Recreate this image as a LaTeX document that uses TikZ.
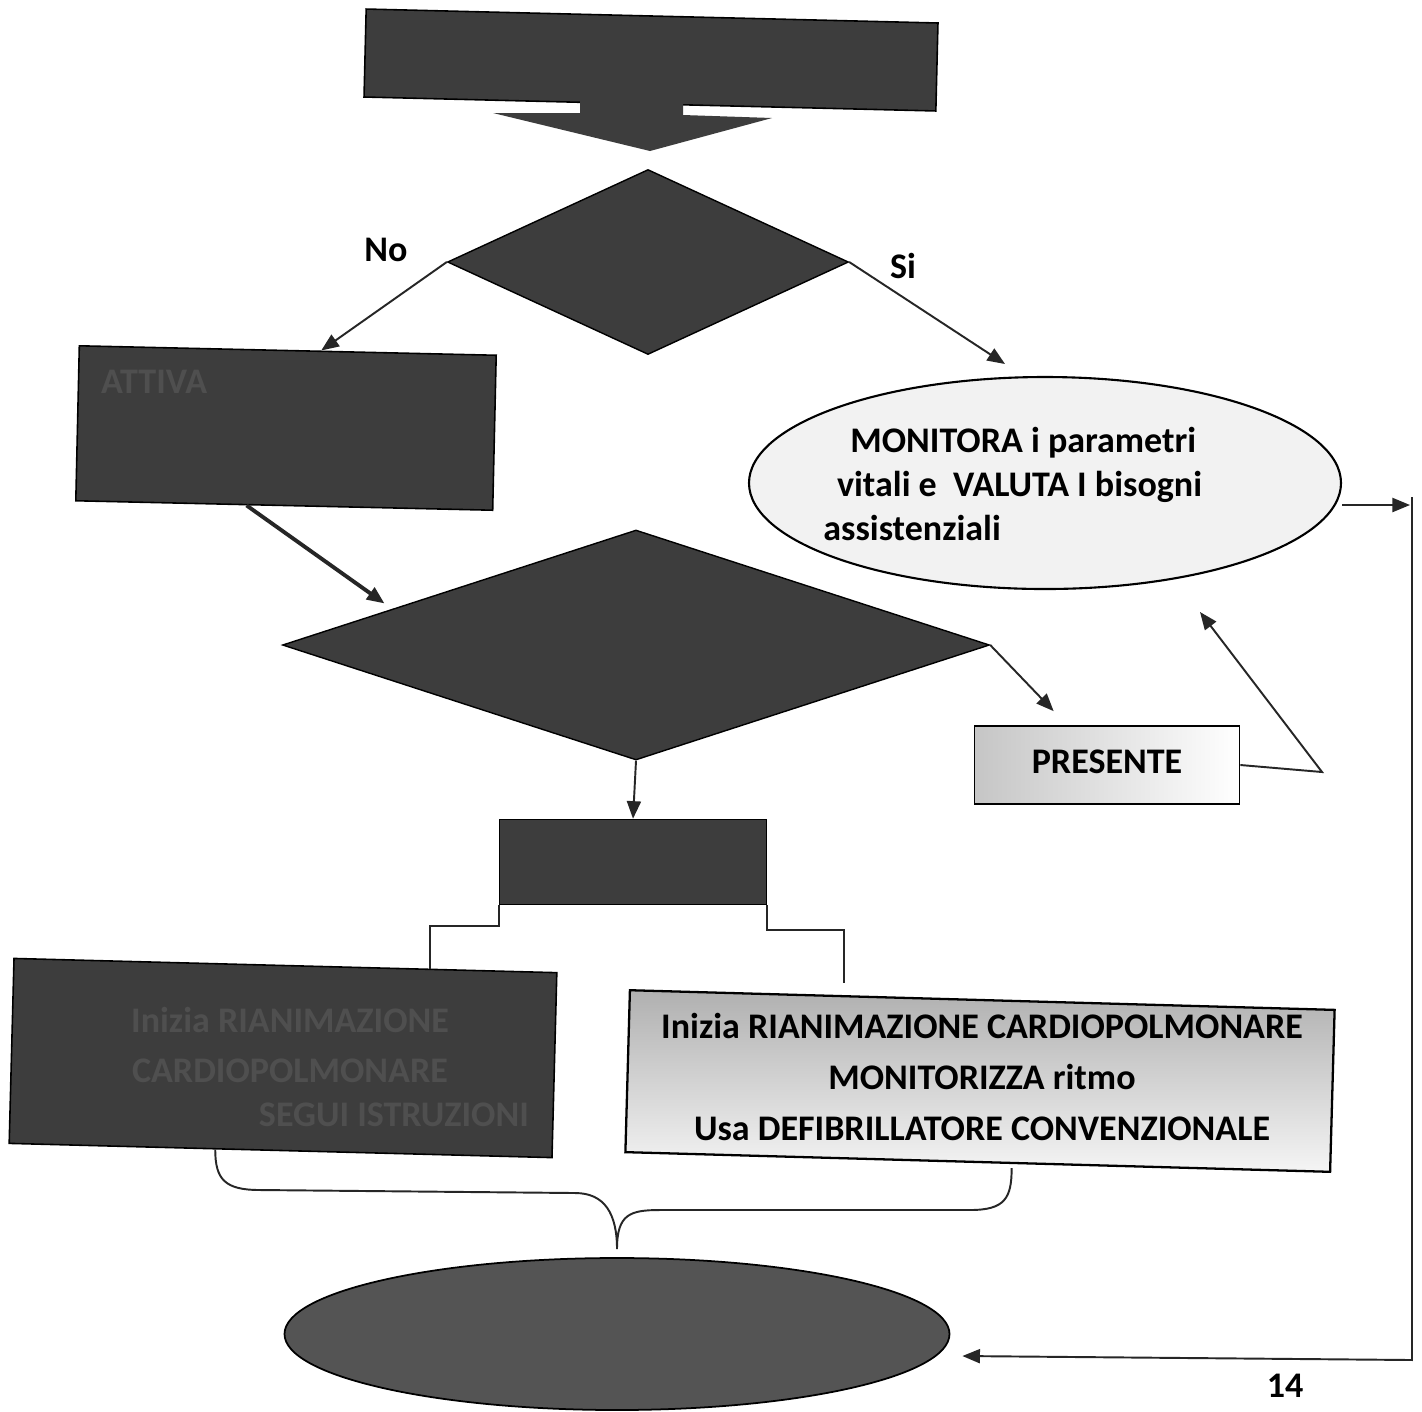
\documentclass[tikz,border=0pt]{standalone}
\usepackage{fontspec}
\setmainfont{Carlito}
\usetikzlibrary{shapes.geometric,arrows.meta,calc}
\definecolor{darkfill}{gray}{0.24}
\definecolor{faintink}{gray}{0.31}
\begin{document}
\begin{tikzpicture}[x=0.02cm,y=-0.02cm,
  lbl/.style={font=\bfseries\fontsize{20.5}{25}\selectfont},
  darkbox/.style={rectangle,draw=black,line width=0.9pt,fill=darkfill,inner sep=0pt},
  darkdiam/.style={diamond,draw=black,line width=0.8pt,fill=darkfill,inner sep=0pt},
  conn/.style={draw=black!85,line width=1.1pt},
  arr/.style={conn,-{Triangle[length=10pt,width=8pt]}},
  faint/.style={text=faintink,font=\bfseries\fontsize{20.5}{28}\selectfont}]
\useasboundingbox (0,0) rectangle (1422,1411);
\fill[white] (0,0) rectangle (1422,1411);

% top banner with block arrow
\node[darkbox,minimum width={572*0.02cm},minimum height={88*0.02cm},rotate=-1.4] (banner) at (651,60) {};
\fill[darkfill] (580,100) -- (580,113) -- (493,113) -- (650,151) -- (772,118) -- (683,115) -- (683,100) -- cycle;

% first decision
\node[darkdiam,minimum width={401*0.02cm},minimum height={185*0.02cm}] (d1) at (648,262) {};
\node[lbl] (no) at (386,250) {No};
\node[lbl] (si) at (903,266) {Si};

% left top box
\node[darkbox,minimum width={417*0.02cm},minimum height={155*0.02cm},rotate=-1.3] (tl) at (286,428) {};
\node[faint,anchor=west] (tltxt) at (95,382) {ATTIVA};

% monitor ellipse
\node[ellipse,draw=black,line width=1.2pt,fill=gray!10,inner sep=0pt,
      minimum width={592*0.02cm},minimum height={212*0.02cm}] (e1) at (1045,483) {};
\node[anchor=west,align=left,inner sep=0pt,font=\bfseries\fontsize{20.5}{25}\selectfont] (e1txt) at (823,484)
  {\hspace*{0.75em}MONITORA i parametri\\\hspace*{0.38em}vitali e \ VALUTA I bisogni\\assistenziali};

% second decision
\node[darkdiam,minimum width={707*0.02cm},minimum height={230*0.02cm}] (d2) at (636,645) {};

% PRESENTE
\node[rectangle,draw=black,line width=1pt,left color=gray!45,right color=white,inner sep=0pt,
      minimum width={265*0.02cm},minimum height={78*0.02cm}] (pres) at (1107,765) {};
\node[lbl] (prestxt) at (1107,762) {PRESENTE};

% small dark box
\node[darkbox,minimum width={267*0.02cm},minimum height={85*0.02cm}] (db) at (633,862) {};

% bottom left box
\node[darkbox,minimum width={543*0.02cm},minimum height={185*0.02cm},rotate=-1.5] (bl) at (283,1058) {};
\node[faint,align=center] (bltxt) at (290,1045) {Inizia RIANIMAZIONE\\CARDIOPOLMONARE};
\node[faint,anchor=east] (bltxt2) at (535,1115) {SEGUI ISTRUZIONI};

% bottom right box
\node[rectangle,draw=black,line width=1.3pt,top color=gray!62,bottom color=gray!8,inner sep=0pt,
      minimum width={705*0.02cm},minimum height={162*0.02cm},rotate=-1.6] (rb) at (980,1081) {};
\node[align=center,font=\bfseries\fontsize{20.5}{29}\selectfont] (rbtxt) at (982,1077)
  {Inizia RIANIMAZIONE CARDIOPOLMONARE\\MONITORIZZA ritmo\\Usa DEFIBRILLATORE CONVENZIONALE};

% bottom ellipse
\node[ellipse,draw=black,line width=1pt,fill=gray!34!darkfill,inner sep=0pt,
      minimum width={665*0.02cm},minimum height={152*0.02cm}] (e2) at (617,1334) {};

% page number
\node[lbl,anchor=south,inner sep=0pt] (pg) at (1285,1398) {14};

% connectors
\coordinate (siend) at (1005,364);
\coordinate (pbend) at (1322,772);
\coordinate (pin) at (1200,612);
\coordinate (rx) at (1410,505);
\coordinate (vtop) at (1412,497);
\coordinate (vbot) at (1412,1360);

\draw[arr] (d1.west) -- ($(tl.north west)!0.58!(tl.north east)$);
\draw[arr] (d1.east) -- (siend);
\draw[arr,line width=2.2pt] ($(tl.south west)!0.41!(tl.south east)$) -- ($(d2.west)!0.29!(d2.north)+(0,-8)$);
\draw[arr] (d2.east) -- ($(pres.north west)!0.3!(pres.north east)+(0,-14)$);
\draw[arr] (d2.south) -- (db.north);
\draw[conn] (db.south west) -- ++(0,21) -| ($(bl.north west)!0.765!(bl.north east)$);
\draw[conn] (db.south east) -- ++(0,25) -| ($(rb.north west)!0.305!(rb.north east)+(0,-12)$);
\draw[arr] (pres.east) -- (pbend) -- (pin);
\draw[arr] ($(e1.east)+(0,22)$) -- (rx);
\draw[arr] (vtop) -- (vbot) -- ($(e2.east)+(12,22)$);

% brace
\coordinate (brL) at ($(bl.south west)!0.38!(bl.south east)$);
\coordinate (brR) at ($(rb.south west)!0.548!(rb.south east)+(0,4)$);
\coordinate (brTip) at ($(e2.north)+(0,-8)$);
\draw[conn] (brL) .. controls +(0,30) and +(-35,0) .. (260,1190) -- (575,1193)
  .. controls +(30,0) and +(0,-35) .. (brTip)
  .. controls +(0,-35) and +(-30,0) .. (660,1210) -- (970,1210)
  .. controls +(35,0) and +(0,30) .. (brR);
\end{tikzpicture}
\end{document}
